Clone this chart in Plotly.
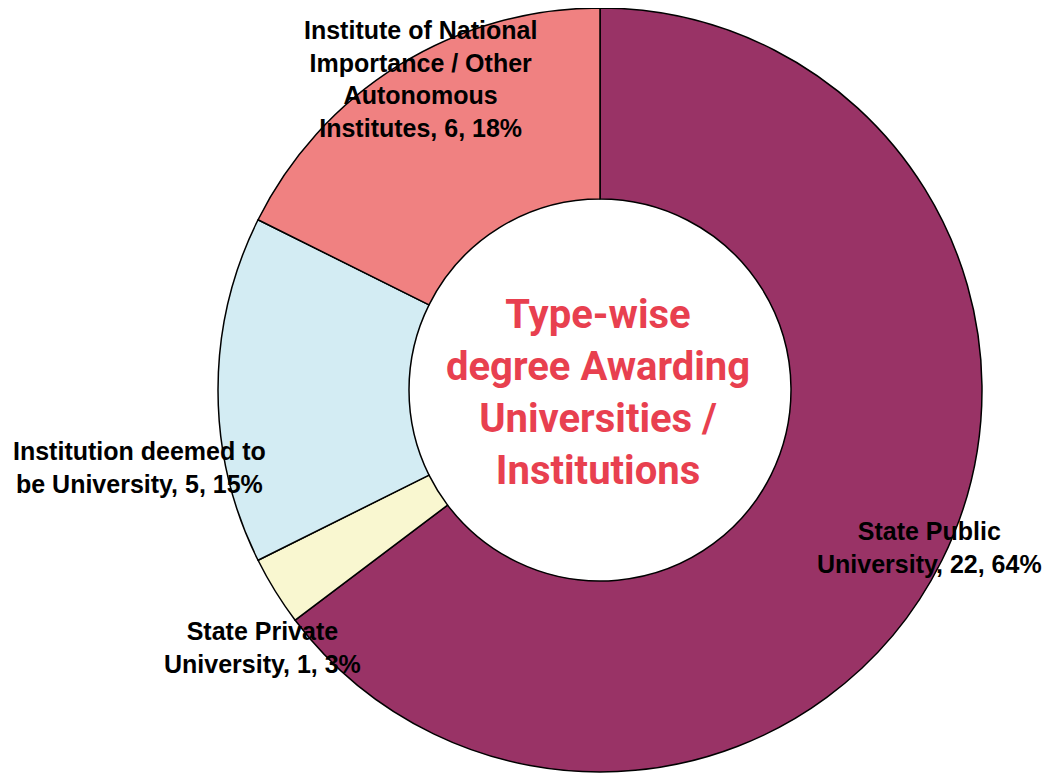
import plotly.graph_objects as go

# Data
categories = [
    "State Public University",
    "State Private University",
    "Institution deemed to be University",
    "Institute of National Importance / Other Autonomous Institutes",
]
counts = [22, 1, 5, 6]
pct_labels = ["64%", "3%", "15%", "18%"]

# label text as broken up in the original chart
label_lines = [
    ["State Public", "University, 22, 64%"],
    ["State Private", "University, 1, 3%"],
    ["Institution deemed to", "be University, 5, 15%"],
    ["Institute of National", "Importance / Other", "Autonomous", "Institutes, 6, 18%"],
]

COLORS = ['#993366', '#F9F7D0', '#D3ECF3', '#F08181']

W, H = 1051, 774
OFF = 8  # page body margin
# label anchor points (pixels on screen), order matches categories
label_pos = [(929, 547), (262, 647), (139, 467), (420, 79)]


def px_x(x):
    return (x - OFF) / W


def px_y(y):
    return 1 - (y - OFF) / H


fig = go.Figure()

fig.add_trace(go.Pie(
    labels=categories,
    values=counts,
    hole=0.5,
    sort=False,
    direction='clockwise',
    rotation=0,
    marker=dict(colors=COLORS, line=dict(color='black', width=1.5)),
    textinfo='none',
    hoverinfo='label+value+percent',
    domain=dict(x=[px_x(218), px_x(982)], y=[px_y(772), px_y(8)]),
    showlegend=False,
))

for lines, (x, y) in zip(label_lines, label_pos):
    fig.add_annotation(
        text="<br>".join(lines),
        x=px_x(x), y=px_y(y),
        xref='paper', yref='paper',
        xanchor='center', yanchor='middle',
        showarrow=False,
        font=dict(family='Liberation Sans, Arial', size=25, color='black', weight='bold'),
    )

# centre title
fig.add_annotation(
    text="Type-wise<br>degree Awarding<br>Universities /<br>Institutions",
    x=px_x(598), y=px_y(393),
    xref='paper', yref='paper',
    xanchor='center', yanchor='middle',
    showarrow=False,
    font=dict(family='Roboto', size=40, color='#E8404F', weight='bold'),
)

fig.update_layout(
    width=W, height=H,
    margin=dict(l=0, r=0, t=0, b=0),
    paper_bgcolor='white',
    plot_bgcolor='white',
)

fig.write_html("out.html")
